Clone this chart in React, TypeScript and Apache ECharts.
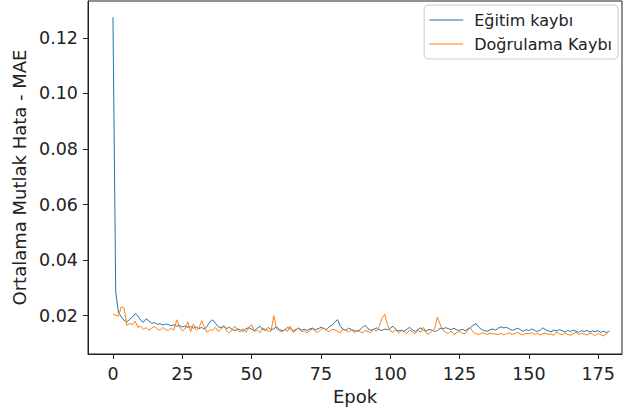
import React, { useEffect, useRef } from "react";
import * as echarts from "echarts";

const trainLoss: number[] = [
  0.1275, 0.0285, 0.0212, 0.0196, 0.0183, 0.0178, 0.0186, 0.0195, 0.0207, 0.0199,
  0.0183, 0.0176, 0.0189, 0.0181, 0.0172, 0.0175, 0.0169, 0.0171, 0.0166, 0.017,
  0.0168, 0.0164, 0.0167, 0.0162, 0.0165, 0.0159, 0.0163, 0.0158, 0.0161, 0.0155,
  0.016, 0.0153, 0.0158, 0.0151, 0.0163, 0.0178, 0.0185, 0.0172, 0.016, 0.0157,
  0.0161, 0.0154, 0.0158, 0.015, 0.0146, 0.0152, 0.0149, 0.0144, 0.0153, 0.0157,
  0.0151, 0.0146, 0.0155, 0.0162, 0.015, 0.0147, 0.0158, 0.0149, 0.0153, 0.016,
  0.0151, 0.0146, 0.0149, 0.0158, 0.0152, 0.0145, 0.015, 0.0156, 0.0148, 0.0151,
  0.0147, 0.0152, 0.0155, 0.0149, 0.0153, 0.0158, 0.0154, 0.015, 0.016, 0.0166,
  0.0176, 0.0186, 0.0162, 0.0151, 0.0147, 0.0155, 0.015, 0.0146, 0.0144, 0.0149,
  0.0158, 0.0165, 0.0153, 0.0147, 0.0151, 0.0156, 0.015, 0.0146, 0.0152, 0.0149,
  0.0155, 0.0162, 0.015, 0.0145, 0.0148, 0.0144, 0.0151, 0.0158, 0.0149, 0.0143,
  0.015, 0.0156, 0.0147, 0.0145, 0.0151, 0.0148, 0.0143, 0.0146, 0.0155, 0.0152,
  0.0157, 0.0153, 0.015, 0.0155, 0.0149, 0.0147, 0.0151, 0.0146, 0.0152, 0.0158,
  0.0166, 0.0171, 0.0158, 0.015, 0.0146, 0.0144, 0.0149, 0.0152, 0.0148, 0.0155,
  0.016, 0.0156, 0.0158, 0.0152, 0.0147, 0.0151, 0.0155, 0.0149, 0.0144, 0.015,
  0.0146, 0.0152, 0.0148, 0.0143, 0.0147, 0.0156, 0.015, 0.0145, 0.0142, 0.0148,
  0.0145, 0.015, 0.0146, 0.0141, 0.0147, 0.0143, 0.0148, 0.0144, 0.014, 0.0146,
  0.0143, 0.0147, 0.0141, 0.0145, 0.0142, 0.0146, 0.014, 0.0144, 0.0139, 0.0145,
];

const valLoss: number[] = [
  0.0205, 0.0202, 0.0198, 0.0232, 0.0228, 0.0165, 0.0172, 0.0168, 0.018, 0.0158,
  0.0162, 0.015, 0.0157, 0.0148, 0.0155, 0.0161, 0.0152, 0.0147, 0.0158, 0.015,
  0.0146, 0.0155, 0.0148, 0.0185, 0.016, 0.0145, 0.0152, 0.0178, 0.0142, 0.017,
  0.0148, 0.0155, 0.0182, 0.016, 0.014, 0.015, 0.0146, 0.0158, 0.0143, 0.0152,
  0.0165, 0.0145, 0.0138, 0.015, 0.0162, 0.0147, 0.0141, 0.0153, 0.014, 0.0157,
  0.0168, 0.0142, 0.0149, 0.0138, 0.0155, 0.015, 0.0145, 0.0143, 0.02, 0.0152,
  0.0146, 0.0141, 0.015, 0.0144, 0.0162, 0.0139, 0.0148, 0.0155, 0.0142, 0.0145,
  0.0138, 0.0147, 0.0152, 0.0143, 0.014, 0.015, 0.0156, 0.0146, 0.0142, 0.0151,
  0.0149, 0.0144, 0.0138, 0.0152, 0.0147, 0.0141, 0.015, 0.0139, 0.0145, 0.0143,
  0.0137, 0.0148, 0.0142, 0.0139, 0.0151, 0.0144, 0.0161, 0.019, 0.0205, 0.0168,
  0.0145, 0.014, 0.015, 0.0138, 0.0146, 0.0142, 0.0136, 0.0149, 0.0141, 0.0135,
  0.0147, 0.014, 0.0158, 0.0138, 0.0133, 0.0144, 0.0152, 0.0195, 0.017, 0.0148,
  0.014, 0.0136, 0.0145, 0.0132, 0.0139, 0.0143, 0.0137, 0.0134, 0.0148, 0.0155,
  0.014, 0.0135, 0.0132, 0.0138, 0.0136, 0.0133, 0.0137, 0.0135, 0.0134, 0.0132,
  0.0136, 0.0131, 0.0135, 0.0138, 0.0133, 0.0136, 0.014, 0.0134, 0.0131, 0.0137,
  0.0135, 0.0139, 0.0133, 0.0136, 0.013, 0.0135, 0.0138, 0.0132, 0.0134, 0.0129,
  0.0142, 0.0136, 0.0131, 0.0138, 0.0133, 0.0129, 0.0135, 0.014, 0.0132, 0.0136,
  0.0134, 0.013, 0.0137, 0.0133, 0.0128, 0.0136, 0.0131, 0.0127, 0.0135, 0.0145,
];

const xTicks: number[] = [0, 25, 50, 75, 100, 125, 150, 175];
const yTicks: number[] = [0.02, 0.04, 0.06, 0.08, 0.1, 0.12];
const seriesNames: string[] = ["Eğitim kaybı", "Doğrulama Kaybı"];
const xLabel = "Epok";
const yLabel = "Ortalama Mutlak Hata - MAE";

const FONT = "DejaVu Sans";

export default function App() {
  const ref = useRef<HTMLDivElement>(null);
  useEffect(() => {
    if (!ref.current) return;
    const chart = echarts.init(ref.current, undefined, { renderer: "svg" });
    const toPairs = (arr: number[]) => arr.map((v, i) => [i, v]);
    chart.setOption({
      animation: false,
      backgroundColor: "#fff",
      grid: {
        left: 88,
        top: 1,
        right: 2,
        bottom: 62,
        show: true,
        borderColor: "#222",
        borderWidth: 1,
        backgroundColor: "transparent",
      },
      legend: {
        orient: "vertical",
        right: 6,
        top: 5,
        padding: [7, 6, 7, 5],
        itemGap: 8,
        itemWidth: 34,
        itemHeight: 1.2,
        icon: "rect",
        borderColor: "#ccc",
        borderWidth: 1,
        borderRadius: 4,
        backgroundColor: "rgba(255,255,255,0.8)",
        textStyle: {
          fontFamily: FONT,
          fontSize: 16,
          color: "#222",
          padding: [0, 0, 0, 6],
        },
        data: seriesNames,
      },
      xAxis: {
        type: "value",
        min: -9,
        max: 183.6,
        name: xLabel,
        nameLocation: "middle",
        nameGap: 28,
        nameTextStyle: { fontFamily: FONT, fontSize: 18, color: "#222" },
        axisLine: { show: true, onZero: false, lineStyle: { color: "#222", width: 1 } },
        axisTick: {
          show: true,
          length: 5,
          customValues: xTicks,
          lineStyle: { color: "#222", width: 1 },
        },
        axisLabel: {
          customValues: xTicks,
          fontFamily: FONT,
          fontSize: 17.5,
          color: "#222",
          margin: 11,
        },
        splitLine: { show: false },
      },
      yAxis: {
        type: "value",
        min: 0.0062,
        max: 0.1333,
        name: yLabel,
        nameLocation: "middle",
        nameGap: 58,
        nameTextStyle: { fontFamily: FONT, fontSize: 18, color: "#222" },
        axisLine: { show: true, onZero: false, lineStyle: { color: "#222", width: 1 } },
        axisTick: {
          show: true,
          length: 5,
          customValues: yTicks,
          lineStyle: { color: "#222", width: 1 },
        },
        axisLabel: {
          customValues: yTicks,
          fontFamily: FONT,
          fontSize: 17.5,
          color: "#222",
          margin: 10,
          formatter: (v: number) => v.toFixed(2),
        },
        splitLine: { show: false },
      },
      series: [
        {
          name: seriesNames[0],
          type: "line",
          data: toPairs(trainLoss),
          showSymbol: false,
          symbol: "none",
          lineStyle: { color: "#1f77b4", width: 1 },
          itemStyle: { color: "#1f77b4" },
        },
        {
          name: seriesNames[1],
          type: "line",
          data: toPairs(valLoss),
          showSymbol: false,
          symbol: "none",
          lineStyle: { color: "#ff7f0e", width: 1 },
          itemStyle: { color: "#ff7f0e" },
        },
      ],
    });
    return () => chart.dispose();
  }, []);
  return (
    <div
      ref={ref}
      style={{ width: 624, height: 416, position: "absolute", left: 0, top: 0 }}
    />
  );
}
